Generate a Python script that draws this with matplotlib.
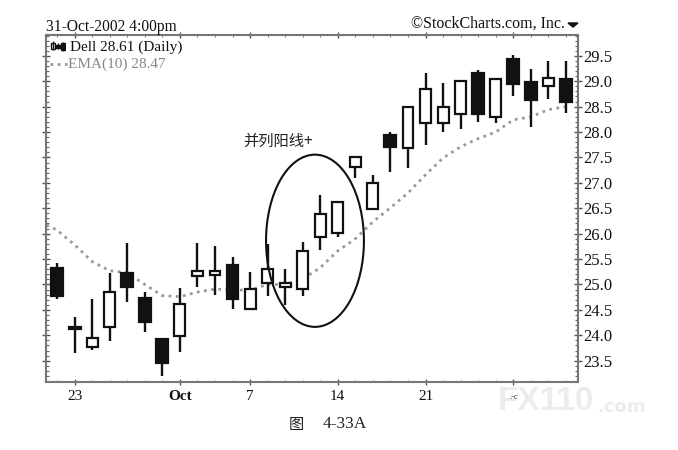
import matplotlib
matplotlib.use("Agg")
import matplotlib.pyplot as plt
from matplotlib.patches import Ellipse, Polygon
from matplotlib.ticker import MultipleLocator, FixedLocator, FixedFormatter

plt.rcParams['font.family'] = ['Liberation Serif', 'Noto Sans CJK SC', 'DejaVu Sans']

high = [25.43,24.36,24.72,25.23,25.82,24.85,23.93,24.93,25.82,25.76,25.54,25.25,25.80,25.31,25.84,
        26.76,26.63,27.53,27.16,28.00,28.50,29.17,28.97,29.01,29.22,29.07,29.52,29.24,29.40,29.40]
low = [24.72,23.65,23.71,23.89,24.66,24.07,23.20,23.67,24.95,24.80,24.52,24.52,24.78,24.60,24.78,
       25.68,25.94,27.10,26.49,27.22,27.30,27.75,28.00,28.06,28.20,28.18,28.71,28.10,28.65,28.38]
body_top = [25.33,24.17,23.95,24.85,25.23,24.74,23.93,24.62,25.27,25.27,25.39,24.91,25.31,25.03,25.66,
            26.39,26.63,27.51,27.00,27.94,28.50,28.85,28.50,29.01,29.17,29.05,29.44,28.99,29.07,29.05]
body_bot = [24.78,24.13,23.77,24.17,24.95,24.26,23.46,23.99,25.17,25.19,24.72,24.52,25.03,24.95,24.91,
            25.94,26.02,27.31,26.49,27.71,27.69,28.18,28.18,28.36,28.36,28.30,28.95,28.63,28.91,28.59]
filled = [1,1,0,0,1,1,1,0,0,0,1,0,0,0,0,0,0,0,0,1,0,0,0,0,1,0,1,1,0,1]
ema_x = [-0.6] + list(range(30))
ema = [26.17,26.07,25.78,25.45,25.27,25.23,25.00,24.78,24.76,24.85,24.91,24.89,24.89,25.00,25.00,25.11,
       25.33,25.66,25.90,26.23,26.51,26.80,27.16,27.49,27.71,27.87,28.00,28.24,28.30,28.44,28.50]
x_ticks = [1, 7, 11, 16, 21, 26]
x_labels = ['23', 'Oct', '7', '14', '21', '']
y_ticks = [23.5,24.0,24.5,25.0,25.5,26.0,26.5,27.0,27.5,28.0,28.5,29.0,29.5]

W, H = 678, 450
fig = plt.figure(figsize=(W/100, H/100), dpi=100, facecolor='white')
ax = fig.add_axes([46/W, 1-382/H, (578-46)/W, (382-35)/H])
ax.set_xlim(-0.63, 29.69)
ax.set_ylim(23.08, 29.91)

ink = '#111111'
xs = list(range(len(high)))
ax.plot(ema_x, ema, color='#9a9a9a', lw=2, ls=(0, (1, 1.6)), zorder=1)
ax.vlines(xs, low, high, color=ink, lw=1.7, zorder=2)
for x, t, b, f in zip(xs, body_top, body_bot, filled):
    ax.bar(x, t-b, bottom=b, width=0.68 if f else 0.62, facecolor=ink if f else 'white',
           edgecolor=ink, lw=1.6, zorder=3)

ax.add_patch(Ellipse((14.7, 25.86), 5.58, 3.39, fill=False, ec=ink, lw=1.5, zorder=4))
ax.text(14.6, 27.82, '并列阳线+', ha='right', va='center', fontsize=11, color='#222222',
        family=['Noto Sans CJK SC', 'DejaVu Sans'])

for s in ax.spines.values():
    s.set_color('#777777'); s.set_linewidth(1.5); s.set_linestyle((0, (2, 0.6)))

ax.xaxis.set_major_locator(FixedLocator(x_ticks))
ax.xaxis.set_major_formatter(FixedFormatter(x_labels))
ax.xaxis.set_minor_locator(MultipleLocator(1))
ax.tick_params(axis='x', which='major', direction='inout', length=5, width=1, color='#555555',
               top=True, labelsize=11, pad=3, labelcolor='#111111')
ax.tick_params(axis='x', which='minor', direction='in', length=1.5, width=0.7, color='#777777', top=True)
for lab in ax.get_xticklabels():
    if lab.get_text() == 'Oct':
        lab.set_fontweight('bold')

ax.yaxis.tick_right()
ax.yaxis.set_major_locator(FixedLocator(y_ticks))
ax.yaxis.set_major_formatter(FixedFormatter([f'{v:.1f}' for v in y_ticks]))
ax.yaxis.set_minor_locator(MultipleLocator(0.1))
ax.tick_params(axis='y', which='major', direction='inout', length=6, width=1, color='#555555',
               left=True, right=True, labelsize=12, pad=1, labelcolor='#111111')
ax.tick_params(axis='y', which='minor', direction='in', length=2.5, width=0.8, color='#666666',
               left=True, right=True)

fig.text(46/W, 1-27/H, '31-Oct-2002 4:00pm', ha='left', va='center', fontsize=11.2, color='#111111')
fig.text(565/W, 1-24/H, '©StockCharts.com, Inc.', ha='right', va='center', fontsize=11.5, color='#111111')
fig.add_artist(Polygon([[568/W, 1-23/H], [578/W, 1-23/H], [573/W, 1-27/H]], closed=True,
                       transform=fig.transFigure, color=ink))
fig.text(70/W, 1-47/H, 'Dell 28.61 (Daily)', ha='left', va='center', fontsize=11, color='#111111')
fig.text(68/W, 1-64/H, 'EMA(10) 28.47', ha='left', va='center', fontsize=11, color='#888888')

# legend keys
key = fig.add_axes([50/W, 1-52/H, 16/W, 11/H]); key.axis('off')
key.set_xlim(0, 4); key.set_ylim(0, 4)
key.vlines([0.7, 2, 3.3], [0.6, 1, 0.4], [3.9, 3.4, 3.8], color=ink, lw=1)
key.bar([0.7, 2, 3.3], [2, 1, 2.6], bottom=[1.1, 1.4, 0.8], width=0.9,
        color=['white', ink, ink], edgecolor=ink, lw=1)
fig.add_artist(plt.Line2D([50/W, 67/W], [1-64/H, 1-64/H], color='#9a9a9a', lw=2, ls=(0, (1, 1.6))))

fig.text(289/W, 1-424/H, '图', ha='left', va='center', fontsize=11, color='#222222',
         family=['Noto Sans CJK SC', 'DejaVu Sans'])
fig.text(323/W, 1-424/H, '4-33A', ha='left', va='center', fontsize=12.5, color='#222222')

fig.text(498/W, 1-402/H, 'FX110', ha='left', va='center', fontsize=24, fontweight='bold',
         color='#ececec', family=['Liberation Sans'], zorder=0)
fig.text(597/W, 1-407/H, '.com', ha='left', va='center', fontsize=13, fontweight='bold',
         color='#ececec', family=['DejaVu Sans'], zorder=0)
fig.text(514/W, 1-397/H, '.-c', ha='center', va='center', fontsize=6, color='#333333')

fig.savefig('out.png', dpi=100, facecolor='white')
